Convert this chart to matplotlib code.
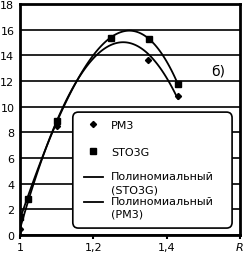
import matplotlib.pyplot as plt
from matplotlib.patches import FancyBboxPatch
from matplotlib.legend_handler import HandlerLine2D
import numpy as np

# data (PM3 point at 1.248 hides under the STO3G square)
r_pm3 = [1.0, 1.022, 1.10, 1.248, 1.35, 1.43]
e_pm3 = [0.45, 2.8, 8.5, 15.35, 13.6, 10.8]
r_sto = [1.0, 1.022, 1.10, 1.248, 1.352, 1.43]
e_sto = [1.4, 2.8, 8.9, 15.35, 15.3, 11.8]

xticks = [1.0, 1.2, 1.4, 1.6]
xlabels = ['1', '1,2', '1,4', 'R']
yticks = [0, 2, 4, 6, 8, 10, 12, 14, 16, 18]

plt.rcParams['font.family'] = ['DejaVu Sans']


class TopLine(HandlerLine2D):
    # put the legend line level with the first text line
    def create_artists(self, legend, orig_handle, xdescent, ydescent,
                       width, height, fontsize, trans):
        arts = super().create_artists(legend, orig_handle, xdescent, ydescent,
                                      width, height, fontsize, trans)
        for a in arts:
            a.set_ydata(np.asarray(a.get_ydata()) + 0.5 * fontsize)
        return arts


fig = plt.figure(figsize=(2.45, 2.55), dpi=100)
ax = fig.add_axes([20/245, 19/255, 220/245, 231/255])

# polynomial trend lines
p_sto = np.polyfit(r_sto, e_sto, 3)
p_pm3 = np.polyfit(r_pm3, e_pm3, 3)
xs_sto = np.linspace(min(r_sto), max(r_sto), 100)
xs_pm3 = np.linspace(min(r_pm3), max(r_pm3), 100)

h_pm3, = ax.plot(r_pm3, e_pm3, 'kD', ms=3.1, zorder=4)
h_sto, = ax.plot(r_sto, e_sto, 'ks', ms=4.2, zorder=4)
h_fs, = ax.plot(xs_sto, np.polyval(p_sto, xs_sto), 'k-', lw=1.3)
h_fp, = ax.plot(xs_pm3, np.polyval(p_pm3, xs_pm3), 'k-', lw=1.3)

ax.set_xlim(1.0, 1.6)
ax.set_ylim(0, 18)
ax.set_xticks(xticks, labels=xlabels)
ax.set_yticks(yticks)
ax.get_xticklabels()[-1].set_fontstyle('italic')
ax.tick_params(axis='y', length=0, pad=4, labelsize=8)
ax.tick_params(axis='x', length=3, width=1.5, pad=2, labelsize=8)
ax.grid(axis='y', color='k', lw=1.2)
ax.set_axisbelow(True)
for s in ax.spines.values():
    s.set_linewidth(2)

ax.text(1.52, 12.8, 'б)', fontsize=10, ha='left', va='center')

# legend box: rounded frame with two frameless legends inside
frame = FancyBboxPatch((0.24, 0.03), 0.724, 0.502, transform=ax.transAxes,
                       boxstyle='round,pad=0,rounding_size=0.025',
                       fc='white', ec='k', lw=1.2, zorder=5)
ax.add_patch(frame)

kw = dict(frameon=False, fontsize=8, handlelength=1.7, handletextpad=0.75,
          borderpad=0, borderaxespad=0)
leg1 = ax.legend([h_pm3, h_sto], ['PM3', 'STO3G'], loc='upper left',
                 bbox_to_anchor=(0.29, 0.497), labelspacing=1.48, **kw)
leg1.set_zorder(6)
ax.add_artist(leg1)
leg2 = ax.legend([h_fs, h_fp], ['Полиномиальный\n(STO3G)', 'Полиномиальный\n(PM3)'],
                 loc='upper left', bbox_to_anchor=(0.29, 0.276),
                 labelspacing=0.15, handler_map={h_fs: TopLine(), h_fp: TopLine()},
                 **kw)
for t in leg2.get_texts():
    t.set_linespacing(1.35)
leg2.set_zorder(6)

fig.savefig('out.png', dpi=100)
